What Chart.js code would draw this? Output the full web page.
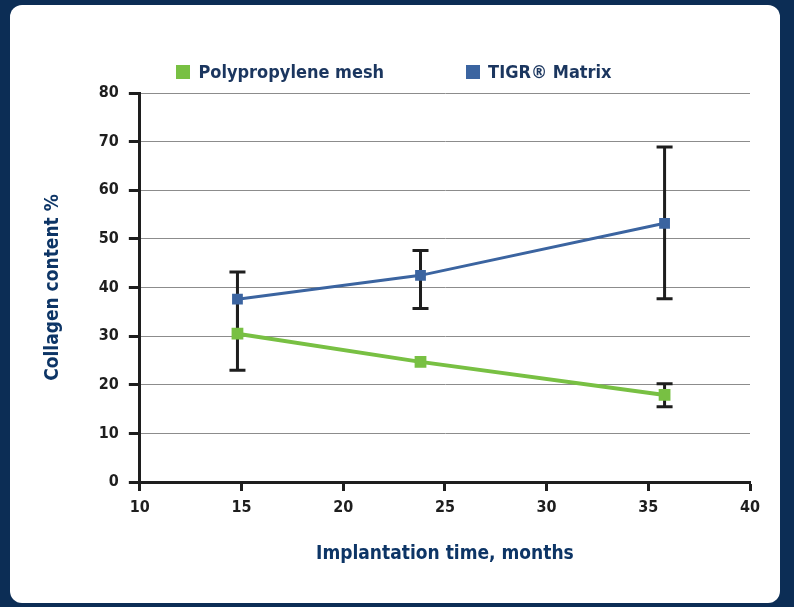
<!DOCTYPE html>
<html>
<head>
<meta charset="utf-8">
<script src="https://cdn.jsdelivr.net/npm/chart.js@4/dist/chart.umd.min.js"></script>
<style>
  html, body { margin: 0; padding: 0; }
  body { width: 794px; height: 607px; background: #0c2d55; position: relative; overflow: hidden; }
  #panel { position: absolute; left: 10px; top: 5px; width: 770px; height: 598px; background: #fff; border-radius: 12px; }
  #chart { display: block; }
  #legenda { position: absolute; left: 0; top: 56px; width: 770px; padding-right: 2px; box-sizing: border-box;
             display: flex; justify-content: center; gap: 82px;
             font: bold 18px 'DejaVu Sans Condensed', sans-serif; color: #1b365f; }
  #legenda span.item { display: flex; align-items: center; }
  #legenda i { display: inline-block; width: 14px; height: 14px; margin-right: 8px; }
</style>
</head>
<body>
<div id="panel"><canvas id="chart" width="770" height="598"></canvas><div id="legenda"></div></div>
<script>
// tempo de implantação (meses) e conteúdo de colágeno (%)
const meses = [14.8, 23.8, 35.8];
const polipropileno = [30.5, 24.7, 17.9];
const polipropilenoMin = [23.0, 24.7, 15.5];
const polipropilenoMax = [37.6, 24.7, 20.2];
const tigr = [37.6, 42.5, 53.2];
const tigrMin = [30.5, 35.7, 37.7];
const tigrMax = [43.2, 47.6, 68.9];

const fonteEixo = "'DejaVu Sans Condensed', 'Liberation Sans Narrow', sans-serif";

function pontos(valores) {
    return meses.map((m, i) => ({ x: m, y: valores[i] }));
}

// Plugin para desenhar as barras de erro (por baixo das linhas)
const barrasErro = {
    id: 'barrasErro',
    beforeDatasetsDraw(chart) {
        const ctx = chart.ctx;
        const sx = chart.scales.x;
        const sy = chart.scales.y;
        const todos = chart.data.datasets.flatMap(ds => ds.data);
        // não desenhar a tampa quando coincide com um ponto de outra série
        const escondida = (x, v) => todos.some(p => p.x === x && Math.abs(p.y - v) < 0.01);
        chart.data.datasets.forEach(ds => {
            ds.data.forEach((p, i) => {
                const x = sx.getPixelForValue(p.x);
                const y1 = sy.getPixelForValue(ds.errMin[i]);
                const y2 = sy.getPixelForValue(ds.errMax[i]);
                if (Math.abs(y1 - y2) < 2) return;
                ctx.save();
                ctx.strokeStyle = '#1e1e1e';
                ctx.lineWidth = 3;
                ctx.beginPath();
                ctx.moveTo(x, y1); ctx.lineTo(x, y2);
                if (!escondida(p.x, ds.errMin[i])) { ctx.moveTo(x - 8, y1); ctx.lineTo(x + 8, y1); }
                if (!escondida(p.x, ds.errMax[i])) { ctx.moveTo(x - 8, y2); ctx.lineTo(x + 8, y2); }
                ctx.stroke();
                ctx.restore();
            });
        });
    }
};

const grafico = new Chart(document.getElementById('chart'), {
    type: 'line',
    data: {
        datasets: [{
            label: 'Polypropylene mesh',
            data: pontos(polipropileno),
            errMin: polipropilenoMin,
            errMax: polipropilenoMax,
            borderColor: '#78c043',
            backgroundColor: '#78c043',
            borderWidth: 4,
            pointStyle: 'rect',
            pointRadius: 5.5,
            pointHoverRadius: 5.5
        }, {
            label: 'TIGR® Matrix',
            data: pontos(tigr),
            errMin: tigrMin,
            errMax: tigrMax,
            borderColor: '#3b64a0',
            backgroundColor: '#3b64a0',
            borderWidth: 3,
            pointStyle: 'rect',
            pointRadius: 5.5,
            pointHoverRadius: 5.5
        }]
    },
    options: {
        responsive: false,
        animation: false,
        layout: { padding: { left: 28, right: 30, top: 88, bottom: 34 } },
        scales: {
            x: {
                type: 'linear',
                min: 10,
                max: 40,
                border: { color: '#1e1e1e', width: 3 },
                grid: { drawOnChartArea: false, drawTicks: true, tickLength: 9, tickWidth: 3, tickColor: '#1e1e1e' },
                ticks: { stepSize: 5, padding: 7, color: '#1e1e1e', font: { family: fonteEixo, size: 16, weight: 'bold' } },
                title: { display: true, text: 'Implantation time, months', color: '#0d3566', padding: { top: 18 },
                         font: { family: fonteEixo, size: 19, weight: 'bold' } }
            },
            y: {
                min: 0,
                max: 80,
                border: { color: '#1e1e1e', width: 3 },
                grid: { color: '#8c8c8c', lineWidth: 1, tickLength: 11, tickWidth: 3, tickColor: '#1e1e1e' },
                ticks: { stepSize: 10, autoSkip: false, padding: 10, color: '#1e1e1e', font: { family: fonteEixo, size: 16, weight: 'bold' } },
                title: { display: true, text: 'Collagen content %', color: '#0d3566', padding: { bottom: 24 },
                         font: { family: fonteEixo, size: 19, weight: 'bold' } }
            }
        },
        plugins: {
            legend: { display: false },
            tooltip: { enabled: false }
        }
    },
    plugins: [barrasErro]
});

// Legenda em HTML a partir dos datasets
const legenda = document.getElementById('legenda');
grafico.data.datasets.forEach(ds => {
    const item = document.createElement('span');
    item.className = 'item';
    const caixa = document.createElement('i');
    caixa.style.background = ds.backgroundColor;
    item.appendChild(caixa);
    item.appendChild(document.createTextNode(ds.label));
    legenda.appendChild(item);
});
</script>
</body>
</html>
